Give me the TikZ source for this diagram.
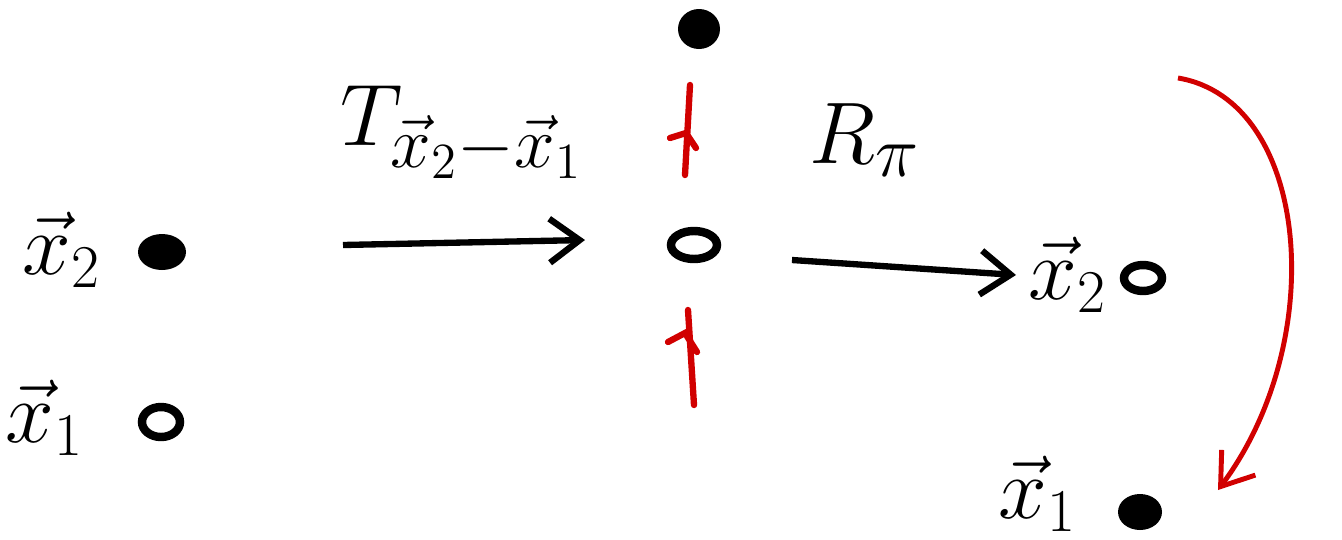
\documentclass[tikz,border=0pt]{standalone}
\usepackage{amsmath}
\usetikzlibrary{arrows.meta,positioning}
\definecolor{ink}{HTML}{D10000}

\begin{document}
\begin{tikzpicture}[x=0.01cm,y=-0.01cm,
  lbl/.style={font=\fontsize{23}{25}\selectfont},
  maplbl/.style={font=\fontsize{30}{32}\selectfont},
  maparrow/.style={line width=1.8pt,-{Straight Barb[length=3mm,width=4.4mm]}},
  hollow/.style={line width=2.4pt},
  vecmark/.style={ink,line width=1.8pt,line cap=round}]
  \useasboundingbox (0,0) rectangle (1342,539);

  % Before: two points
  \node[lbl] (lx2) at (62,250) {$\vec{x}_2$};
  \fill (162,252) ellipse (24 and 18);
  \node[lbl] (lx1) at (45,418) {$\vec{x}_1$};
  \draw[hollow] (161,422) ellipse (19 and 15);

  % Translation
  \coordinate (ta) at (343,245);
  \coordinate (tb) at (585,240);
  \draw[maparrow] (ta) -- (tb);
  \node[maplbl] (tlbl) at (462,132) {$T_{\vec{x}_2-\vec{x}_1}$};

  % After translation
  \fill (699,29) ellipse (21 and 20);
  \draw[hollow] (694,245) ellipse (23 and 14);
  \draw[vecmark] (690,85) -- (685,175);
  \draw[vecmark] (670,138) -- (686,133) -- (696,148);
  \draw[vecmark] (688,310) -- (694,405);
  \draw[vecmark] (668,342) -- (685,333) -- (697,352);

  % Rotation
  \coordinate (ra) at (792,260);
  \node[maplbl] (rlbl) at (865,140) {$R_\pi$};
  \node[lbl,anchor=west] (rx2) at (1016,275) {$\vec{x}_2$};
  \draw[maparrow] (ra) -- (rx2.west);
  \draw[hollow] (1143,278) ellipse (19 and 13);
  \node[lbl] (rx1) at (1038,494) {$\vec{x}_1$};
  \fill (1140,512) ellipse (22 and 18);

  % Red curved arrow
  \coordinate (ca) at (1178,78);
  \coordinate (cb) at (1218,490);
  \draw[ink,line width=1.4pt,-{Straight Barb[length=3mm,width=4.2mm]}]
    (ca) .. controls (1310,100) and (1330,340) .. (cb);
\end{tikzpicture}
\end{document}
